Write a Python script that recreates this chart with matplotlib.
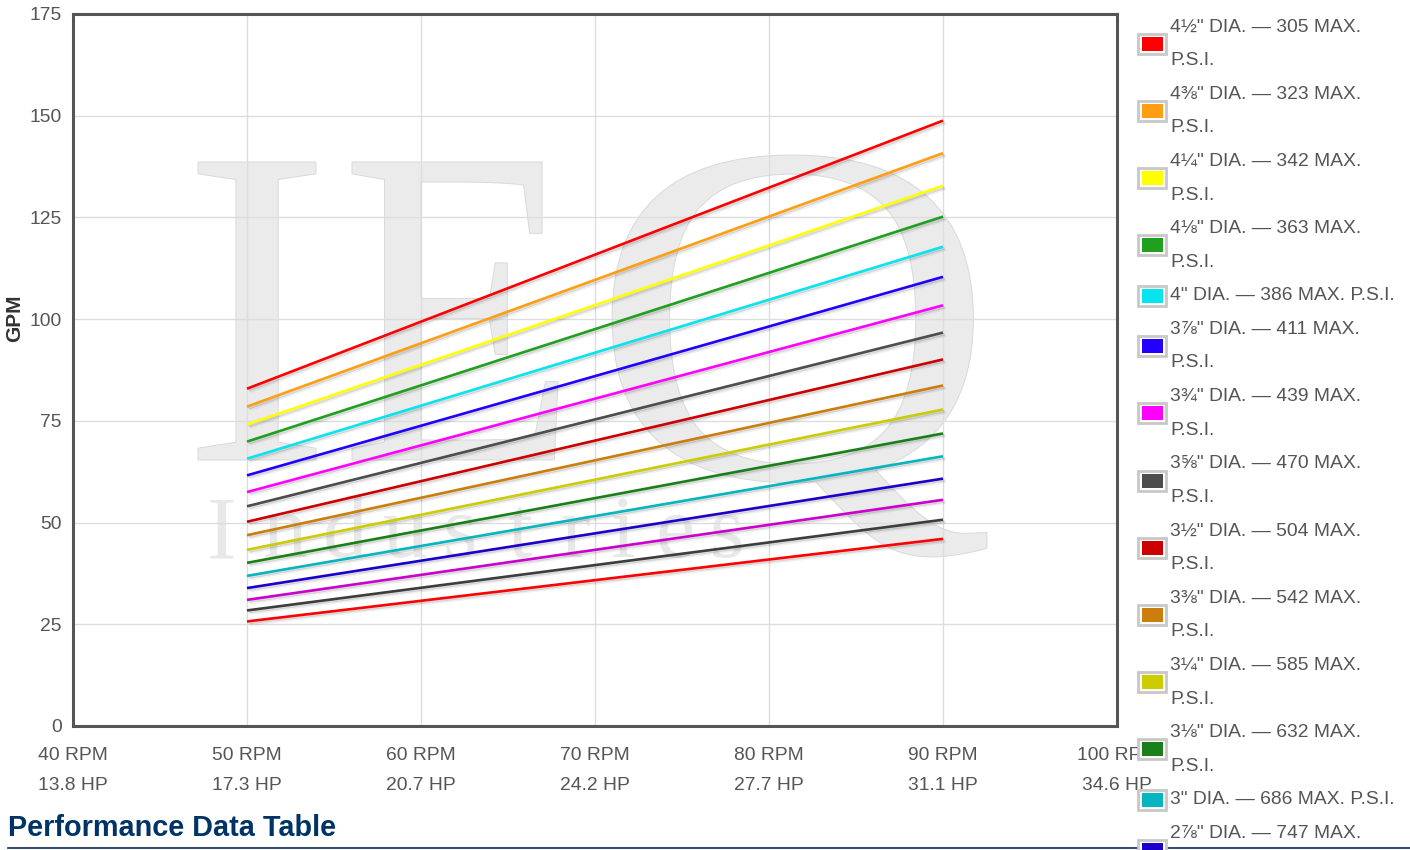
import numpy as np
import matplotlib
matplotlib.use('Agg')
import matplotlib.pyplot as plt
from matplotlib.patches import Rectangle, PathPatch
from matplotlib.lines import Line2D
from matplotlib.textpath import TextPath
from matplotlib.font_manager import FontProperties
from matplotlib.transforms import Affine2D, IdentityTransform
import matplotlib.patheffects as pe

plt.rcParams['font.family'] = ['Liberation Sans', 'DejaVu Sans']

# data
rpm = [50, 90]
gpm_50 = [82.9, 78.5, 74.1, 69.9, 65.7, 61.6, 57.5, 54.0, 50.2,
          46.9, 43.3, 40.1, 36.9, 33.9, 31.0, 28.4, 25.7]
gpm_90 = [148.8, 140.8, 132.8, 125.2, 117.8, 110.4, 103.4, 96.7, 90.1,
          83.7, 77.8, 71.9, 66.3, 60.8, 55.6, 50.7, 46.0]
dia = ['4½"', '4⅜"', '4¼"', '4⅛"', '4"', '3⅞"', '3¾"', '3⅝"', '3½"',
       '3⅜"', '3¼"', '3⅛"', '3"', '2⅞"', '2¾"', '2⅝"', '2½"']
psi = [305, 323, 342, 363, 386, 411, 439, 470, 504,
       542, 585, 632, 686, 747, 817, 896, 988]
colors = ['#ff0000', '#ff9e12', '#ffff00', '#1fa01f', '#06e4ee', '#2200ff',
          '#ff00ff', '#4d4d4d', '#cc0000', '#cc7e0c', '#cccc00', '#198019',
          '#05b6be', '#1b00cc', '#cc00cc', '#3d3d3d', '#ff0000']
rpm_ticks = [40, 50, 60, 70, 80, 90, 100]
hp_ticks = ['13.8', '17.3', '20.7', '24.2', '27.7', '31.1', '34.6']

W, H = 1410, 850
FS = 13.9
fig = plt.figure(figsize=(W/100, H/100), dpi=100)
ax = fig.add_axes([73/W, 1-726/H, (1117-73)/W, (726-14)/H])

# watermark (background logo)
fp = FontProperties(family='Liberation Serif')
def logo_letter(ch, x0, ytop, x1, ybot):
    tp = TextPath((0, 0), ch, size=100, prop=fp)
    ext = tp.get_extents()
    tr = Affine2D().translate(-ext.x0, -ext.y0).scale((x1-x0)/ext.width, (ybot-ytop)/ext.height).translate(x0, H-ybot)
    p = PathPatch(tr.transform_path(tp), facecolor='#ebebeb', edgecolor='#d9d9d9',
                  lw=0.7, transform=IdentityTransform(), zorder=0.2)
    ax.add_patch(p)

logo_letter('I', 198, 162, 316, 460)
logo_letter('E', 352, 162, 558, 460)
logo_letter('Q', 612, 155, 987, 557)
for ch, xc in zip('Industries', [222, 285, 345, 405, 460, 520, 575, 622, 675, 727]):
    ax.text(xc/W, 1-557/H, ch, transform=fig.transFigure, ha='center', va='baseline',
            fontsize=64, family='Liberation Serif', color='#e8e8e8', zorder=0.3, clip_on=False)

for i in range(len(dia)):
    ax.plot(rpm, [gpm_50[i], gpm_90[i]], color=colors[i], lw=1.9, solid_capstyle='butt', zorder=3,
            path_effects=[pe.SimpleLineShadow(offset=(2.2, -2.2), shadow_color='k', alpha=0.06),
                          pe.SimpleLineShadow(offset=(1.2, -1.2), shadow_color='k', alpha=0.12),
                          pe.Normal()])

ax.set_xlim(40, 100)
ax.set_ylim(0, 175)
ax.set_xticks(rpm_ticks)
ax.set_xticklabels([f'{r} RPM\n{h} HP' for r, h in zip(rpm_ticks, hp_ticks)])
ax.set_yticks(range(0, 176, 25))
ax.grid(color='#dddddd', lw=1)
ax.set_axisbelow(True)
ax.tick_params(axis='both', length=0, labelsize=FS, labelcolor='#555555')
ax.tick_params(axis='x', pad=15)
ax.tick_params(axis='y', pad=8)
for t in ax.get_xticklabels():
    t.set_linespacing(2.05)
for s in ax.spines.values():
    s.set_color('#555555')
    s.set_linewidth(2.2)

fig.text(15/W, 1-318/H, 'GPM', rotation=90, ha='center', va='center',
         fontsize=15, fontweight='bold', color='#333333')

# legend drawn by hand on the right (runs off the bottom like the original)
renderer = fig.canvas.get_renderer()
line_no = 0
pitch = 33.6
for i in range(len(dia)):
    full = f'{dia[i]} DIA. — {psi[i]} MAX. P.S.I.'
    t = fig.text(0, 0, full, fontsize=FS)
    wide = t.get_window_extent(renderer).width > 232
    t.remove()
    lines = [f'{dia[i]} DIA. — {psi[i]} MAX.', 'P.S.I.'] if wide else [full]
    for k, s in enumerate(lines):
        yc = 27 + pitch*(line_no+k)
        if yc < H - 8:
            fig.text(1170/W, 1-yc/H, s, fontsize=FS, color='#555555', ha='left', va='center')
    yc = 27 + pitch*line_no + (pitch/2 if wide else 0)
    if yc - 10 < H:
        fig.add_artist(Rectangle((1138/W, 1-(yc+10)/H), 28/W, 20/H, transform=fig.transFigure,
                                 facecolor='white', edgecolor='#c8c8c8', lw=2, zorder=5))
        fig.add_artist(Rectangle((1141.5/W, 1-(yc+7)/H), 21/W, 14/H, transform=fig.transFigure,
                                 facecolor=colors[i], edgecolor='none', zorder=6))
    line_no += len(lines)

fig.text(8/W, 1-828/H, 'Performance Data Table', fontsize=20.8, fontweight='bold',
         color='#003366', ha='left', va='center')
fig.add_artist(Line2D([8/W, 1], [1-848/H, 1-848/H], color='#0d2b52', lw=1.2))

fig.savefig('out.png', dpi=100)
